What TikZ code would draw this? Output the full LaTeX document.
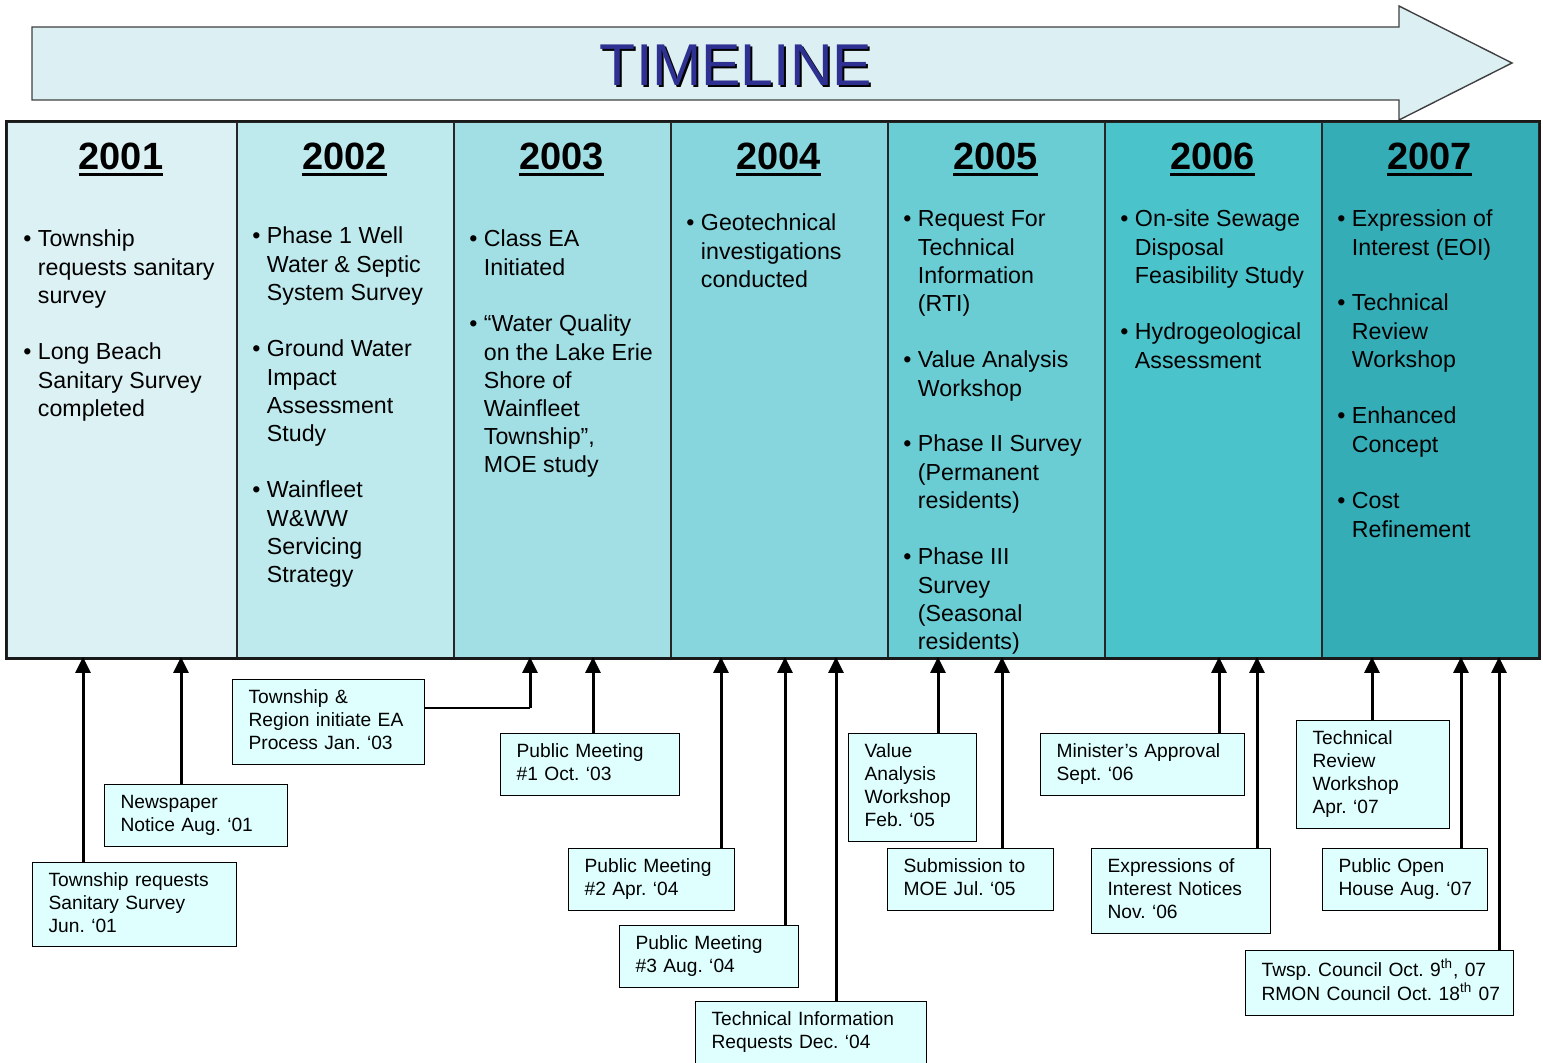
\documentclass[tikz,border=0pt]{standalone}
\usepackage{fontspec}
\setmainfont{Liberation Sans}
\usepackage{xcolor}
\usetikzlibrary{arrows.meta}
\frenchspacing

\definecolor{arrowfill}{HTML}{DCEFF2}
\definecolor{boxfill}{HTML}{DFFFFF}
\definecolor{titleblue}{HTML}{2E3192}
\definecolor{colA}{HTML}{DCF1F4}
\definecolor{colB}{HTML}{BEE9ED}
\definecolor{colC}{HTML}{A2DFE5}
\definecolor{colD}{HTML}{88D6DD}
\definecolor{colE}{HTML}{6ACDD4}
\definecolor{colF}{HTML}{4BC3CB}
\definecolor{colG}{HTML}{34ADB7}

\newcommand{\yearul}[1]{\leavevmode\vtop{\hbox{#1}\kern1.2pt\hrule height 1.6pt}}
\newcommand{\bul}[1]{•~\begin{tabular}[t]{@{}l@{}}#1\end{tabular}}
\newcommand{\evtext}[1]{\begin{tabular}{@{}l@{}}#1\end{tabular}}

\begin{document}
\begin{tikzpicture}[x=0.5pt,y=-0.5pt,
  column/.style={draw=black!85,line width=0.8pt,anchor=north west,minimum width=108.5pt,minimum height=268pt,inner sep=0pt},
  year/.style={anchor=base,inner sep=0pt,font=\fontsize{19}{22}\selectfont\bfseries},
  item/.style={anchor=base west,inner sep=0pt,font=\fontsize{11.6}{14.1}\selectfont},
  evbox/.style={draw,line width=0.6pt,fill=boxfill,anchor=north west,align=left,inner xsep=8pt,inner ysep=0pt,font=\fontsize{9.6}{11.5}\selectfont},
  evarrow/.style={-{Triangle[width=7.5pt,length=8pt]},line width=1.5pt}]

  \useasboundingbox (0,0) rectangle (1543,1063);

  % big timeline arrow
  \draw[fill=arrowfill,draw=black!75,line width=0.7pt]
    (32,27) -- (1399,27) -- (1399,6) -- (1512,63) -- (1399,120) -- (1399,100) -- (32,100) -- cycle;
  \node[font=\fontsize{29.5}{32}\selectfont,text=black] (titleshadow) at (738,67) {TIMELINE};
  \node[font=\fontsize{29.5}{32}\selectfont,text=titleblue] (title) at (736,65) {TIMELINE};

  % year columns
  \node[column,fill=colA,minimum width=115pt] (c2001) at (6,121) {};
  \node[column,fill=colB] (c2002) at (236,121) {};
  \node[column,fill=colC] (c2003) at (453,121) {};
  \node[column,fill=colD] (c2004) at (670,121) {};
  \node[column,fill=colE] (c2005) at (887,121) {};
  \node[column,fill=colF] (c2006) at (1104,121) {};
  \node[column,fill=colG] (c2007) at (1321,121) {};
  \draw[line width=1.1pt,draw=black!90] (c2001.north west) rectangle (c2007.south east);

  \node[year] (y2001) at (121,170) {\yearul{2001}};
  \node[year] (y2002) at (344.5,170) {\yearul{2002}};
  \node[year] (y2003) at (561.5,170) {\yearul{2003}};
  \node[year] (y2004) at (778.5,170) {\yearul{2004}};
  \node[year] (y2005) at (995.5,170) {\yearul{2005}};
  \node[year] (y2006) at (1212.5,170) {\yearul{2006}};
  \node[year] (y2007) at (1429.5,170) {\yearul{2007}};

  % column items
  \node[item] (i2001a) at (23,247) {\bul{Township\\requests sanitary\\survey}};
  \node[item] (i2001b) at (23,360) {\bul{Long Beach\\Sanitary Survey\\completed}};

  \node[item] (i2002a) at (252,244) {\bul{Phase 1 Well\\Water \& Septic\\System Survey}};
  \node[item] (i2002b) at (252,357) {\bul{Ground Water\\Impact\\Assessment\\Study}};
  \node[item] (i2002c) at (252,498) {\bul{Wainfleet\\W\&WW\\Servicing\\Strategy}};

  \node[item] (i2003a) at (469,247) {\bul{Class EA\\Initiated}};
  \node[item] (i2003b) at (469,332) {\bul{“Water Quality\\on the Lake Erie\\Shore of\\Wainfleet\\Township”,\\MOE study}};

  \node[item] (i2004a) at (686,231) {\bul{Geotechnical\\investigations\\conducted}};

  \node[item] (i2005a) at (903,227) {\bul{Request For\\Technical\\Information\\(RTI)}};
  \node[item] (i2005b) at (903,368) {\bul{Value Analysis\\Workshop}};
  \node[item] (i2005c) at (903,452) {\bul{Phase II Survey\\(Permanent\\residents)}};
  \node[item] (i2005d) at (903,565) {\bul{Phase III\\Survey\\(Seasonal\\residents)}};

  \node[item] (i2006a) at (1120,227) {\bul{On-site Sewage\\Disposal\\Feasibility Study}};
  \node[item] (i2006b) at (1120,340) {\bul{Hydrogeological\\Assessment}};

  \node[item] (i2007a) at (1337,227) {\bul{Expression of\\Interest (EOI)}};
  \node[item] (i2007b) at (1337,311) {\bul{Technical\\Review\\Workshop}};
  \node[item] (i2007c) at (1337,424) {\bul{Enhanced\\Concept}};
  \node[item] (i2007d) at (1337,509) {\bul{Cost\\Refinement}};

  % event boxes
  \node[evbox,text width=86pt,minimum height=42pt] (survey) at (32,862) {\evtext{Township requests\\Sanitary Survey\\Jun. ‘01}};
  \node[evbox,text width=75.5pt,minimum height=31pt] (notice) at (104,784) {\evtext{Newspaper\\Notice Aug. ‘01}};
  \node[evbox,text width=80pt,minimum height=42.5pt] (eaproc) at (232,679) {\evtext{Township \&\\Region initiate EA\\Process Jan. ‘03}};
  \node[evbox,text width=73.5pt,minimum height=31pt] (pm1) at (500,733) {\evtext{Public Meeting\\\#1 Oct. ‘03}};
  \node[evbox,text width=67pt,minimum height=31pt] (pm2) at (568,848) {\evtext{Public Meeting\\\#2 Apr. ‘04}};
  \node[evbox,text width=73.5pt,minimum height=31pt] (pm3) at (619,925) {\evtext{Public Meeting\\\#3 Aug. ‘04}};
  \node[evbox,text width=99.5pt,minimum height=31pt] (rti) at (695,1001) {\evtext{Technical Information\\Requests Dec. ‘04}};
  \node[evbox,text width=48pt,minimum height=54pt] (vaw) at (848,733) {\evtext{Value\\Analysis\\Workshop\\Feb. ‘05}};
  \node[evbox,text width=67pt,minimum height=31pt] (moe) at (887,848) {\evtext{Submission to\\MOE Jul. ‘05}};
  \node[evbox,text width=86pt,minimum height=31pt] (minister) at (1040,733) {\evtext{Minister’s Approval\\Sept. ‘06}};
  \node[evbox,text width=73.5pt,minimum height=42.5pt] (eoi) at (1091,848) {\evtext{Expressions of\\Interest Notices\\Nov. ‘06}};
  \node[evbox,text width=60.5pt,minimum height=54pt] (trw) at (1296,720) {\evtext{Technical\\Review\\Workshop\\Apr. ‘07}};
  \node[evbox,text width=66.5pt,minimum height=31pt] (openhouse) at (1322,848) {\evtext{Public Open\\House Aug. ‘07}};
  \node[evbox,text width=118pt,minimum height=32.5pt] (council) at (1245,950) {\evtext{Twsp. Council Oct. 9\textsuperscript{th}, 07\\RMON Council Oct. 18\textsuperscript{th} 07}};

  % arrow tips on the column base
  \coordinate (tipsurvey) at (83,657);
  \coordinate (tipnotice) at (181,657);
  \coordinate (tipeaproc) at (530,657);
  \coordinate (bendeaproc) at (530,708);
  \coordinate (tippm1) at (593,657);
  \coordinate (tippm2) at (721,657);
  \coordinate (tippm3) at (785,657);
  \coordinate (tiprti) at (836,657);
  \coordinate (tipvaw) at (938,657);
  \coordinate (tipmoe) at (1002,657);
  \coordinate (tipminister) at (1219,657);
  \coordinate (tipeoi) at (1257,657);
  \coordinate (tiptrw) at (1372,657);
  \coordinate (tipopenhouse) at (1461,657);
  \coordinate (tipcouncil) at (1499,657);

  \draw[evarrow] (survey.north -| tipsurvey) -- (tipsurvey);
  \draw[evarrow] (notice.north -| tipnotice) -- (tipnotice);
  \draw[line width=0.6pt] (bendeaproc -| eaproc.east) -- (bendeaproc);
  \draw[evarrow] (bendeaproc) -- (tipeaproc);
  \draw[evarrow] (pm1.north -| tippm1) -- (tippm1);
  \draw[evarrow] (pm2.north -| tippm2) -- (tippm2);
  \draw[evarrow] (pm3.north -| tippm3) -- (tippm3);
  \draw[evarrow] (rti.north -| tiprti) -- (tiprti);
  \draw[evarrow] (vaw.north -| tipvaw) -- (tipvaw);
  \draw[evarrow] (moe.north -| tipmoe) -- (tipmoe);
  \draw[evarrow] (minister.north -| tipminister) -- (tipminister);
  \draw[evarrow] (eoi.north -| tipeoi) -- (tipeoi);
  \draw[evarrow] (trw.north -| tiptrw) -- (tiptrw);
  \draw[evarrow] (openhouse.north -| tipopenhouse) -- (tipopenhouse);
  \draw[evarrow] (council.north -| tipcouncil) -- (tipcouncil);

\end{tikzpicture}
\end{document}
